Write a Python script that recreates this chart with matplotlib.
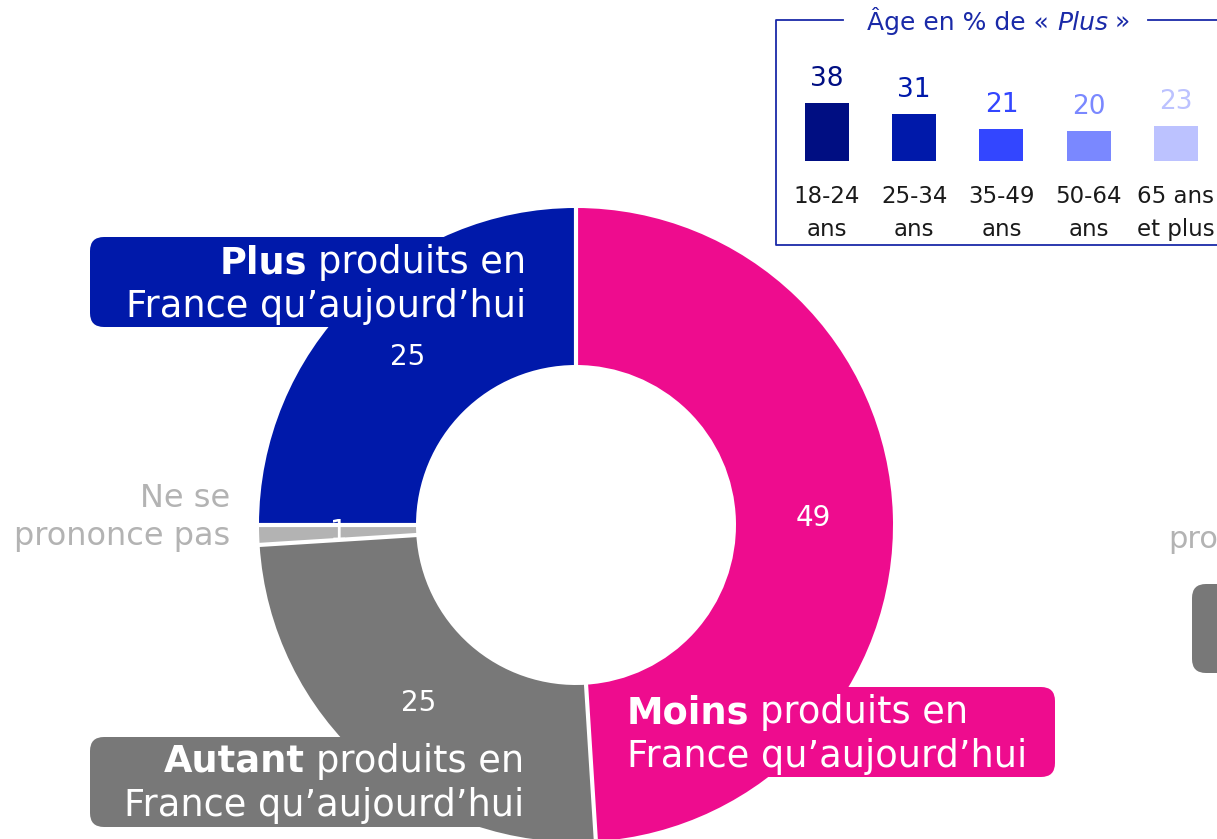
import numpy as np
import matplotlib
matplotlib.use('Agg')
import matplotlib.pyplot as plt
from matplotlib.patches import FancyBboxPatch
from matplotlib import transforms

plt.rcParams['font.family'] = ['DejaVu Sans']

# donut : opinion
categories = ['Moins', 'Autant', 'Ne se prononce pas', 'Plus']
values = [49, 25, 1, 25]
colors = ['#ee0c8e', '#787878', '#b3b3b3', '#0019aa']

# encart : age en % de "Plus"
age_groups = [('18-24', 'ans'), ('25-34', 'ans'), ('35-49', 'ans'), ('50-64', 'ans'), ('65 ans', 'et plus')]
age_values = [38, 31, 21, 20, 23]
age_colors = ['#000e82', '#0019aa', '#3346ff', '#7a88ff', '#bcc2ff']

W, H = 1217, 839
fig = plt.figure(figsize=(W / 100, H / 100), dpi=100)
ax = fig.add_axes([0, 0, 1, 1])

cx, cy, R, ring = 576, 525, 317, 157
total = sum(values)
# axe y inverse (coordonnees image) -> counterclock=True donne le sens horaire a l'ecran
wedges, texts, autotexts = ax.pie(values, colors=colors, center=(cx, cy), radius=R,
                                  startangle=-90, counterclock=True,
                                  wedgeprops=dict(width=ring, linewidth=0),
                                  autopct=lambda p: f'{p * total / 100:.0f}', pctdistance=0.75,
                                  textprops=dict(color='white', fontsize=20))
for w in wedges:
    w.set_zorder(2)
for t in autotexts:
    t.set_zorder(5)
ax.set_xlim(0, W)
ax.set_ylim(H, 0)
ax.set_aspect('auto')
ax.axis('off')

# separateurs blancs
cum = np.cumsum([0] + values) / total
for frac in cum[:-1]:
    th = np.deg2rad(-90 + 360 * frac)
    ax.plot([cx + (R - ring - 2) * np.cos(th), cx + (R + 2) * np.cos(th)],
            [cy + (R - ring - 2) * np.sin(th), cy + (R + 2) * np.sin(th)],
            color='white', lw=3, solid_capstyle='butt', zorder=3)

# etiquettes en boites
def box(x0, y0, x1, y1, color):
    ax.add_patch(FancyBboxPatch((x0, y0), x1 - x0, y1 - y0,
                                boxstyle='round,pad=0,rounding_size=14',
                                fc=color, ec='none', zorder=1))

def label(x, y, bold, rest, line2, ha, fs=26.5):
    if ha == 'right':
        t = ax.text(x, y, rest, ha='right', va='baseline', color='white', fontsize=fs, zorder=5)
        ax.annotate(bold, xy=(0, 0), xycoords=t, xytext=(-11, 0), textcoords='offset pixels',
                    ha='right', va='bottom', color='white', fontsize=fs, fontweight='bold', zorder=5)
    else:
        t = ax.text(x, y, bold, ha='left', va='baseline', color='white', fontsize=fs,
                    fontweight='bold', zorder=5)
        ax.annotate(rest, xy=(1, 0), xycoords=t, xytext=(11, 0), textcoords='offset pixels',
                    ha='left', va='bottom', color='white', fontsize=fs, zorder=5)
    ax.text(x, y + 44, line2, ha=ha, va='baseline', color='white', fontsize=fs, zorder=5)

box(90, 237, 560, 327, colors[3])
label(526, 273, 'Plus', 'produits en', 'France qu’aujourd’hui', 'right')
box(90, 737, 560, 827, colors[1])
label(524, 772, 'Autant', 'produits en', 'France qu’aujourd’hui', 'right')
box(600, 687, 1055, 777, colors[0])
label(627, 723, 'Moins', 'produits en', 'France qu’aujourd’hui', 'left')

ax.text(230, 507, 'Ne se', ha='right', va='baseline', color='#b3b3b3', fontsize=23)
ax.text(230, 545, 'prononce pas', ha='right', va='baseline', color='#b3b3b3', fontsize=23)

# bord droit (graphique voisin coupe)
ax.text(1168, 548, 'pro', ha='left', va='baseline', color='#b3b3b3', fontsize=22)
box(1192, 584, 1260, 673, '#787878')

# encart
blue = '#1a2aa8'
ax.plot([843, 776, 776, 1217], [20, 20, 245, 245], color=blue, lw=1.3)
ax.plot([1148, 1217], [20, 20], color=blue, lw=1.3)
t1 = ax.text(867, 30, 'Âge en % de «', ha='left', va='baseline', color=blue, fontsize=18)
t2 = ax.annotate('Plus', xy=(1, 0), xycoords=t1, xytext=(8, 0), textcoords='offset pixels',
                 ha='left', va='bottom', color=blue, fontsize=18, fontstyle='italic')
ax.annotate('»', xy=(1, 0), xycoords=t2, xytext=(7, 0), textcoords='offset pixels',
            ha='left', va='bottom', color=blue, fontsize=18)

ax2 = fig.add_axes([783.4 / W, (H - 161) / H, 436 / W, 152 / H])
x = np.arange(len(age_values))
ax2.bar(x, age_values, width=0.505, color=age_colors)
ax2.set_xlim(-0.5, len(age_values) - 0.5)
ax2.set_ylim(0, 100)
ax2.axis('off')
for i, v in enumerate(age_values):
    ax2.annotate(str(v), xy=(i, v), xytext=(0, 11), textcoords='offset pixels',
                 ha='center', va='bottom', color=age_colors[i], fontsize=19)

tr = transforms.blended_transform_factory(ax2.transData, ax.transData)
for i, (l1, l2) in enumerate(age_groups):
    ax.text(i, 203, l1, transform=tr, ha='center', va='baseline', color='#1a1a1a', fontsize=16.5)
    ax.text(i, 236, l2, transform=tr, ha='center', va='baseline', color='#1a1a1a', fontsize=16.5)

fig.savefig('out.png', dpi=100)
